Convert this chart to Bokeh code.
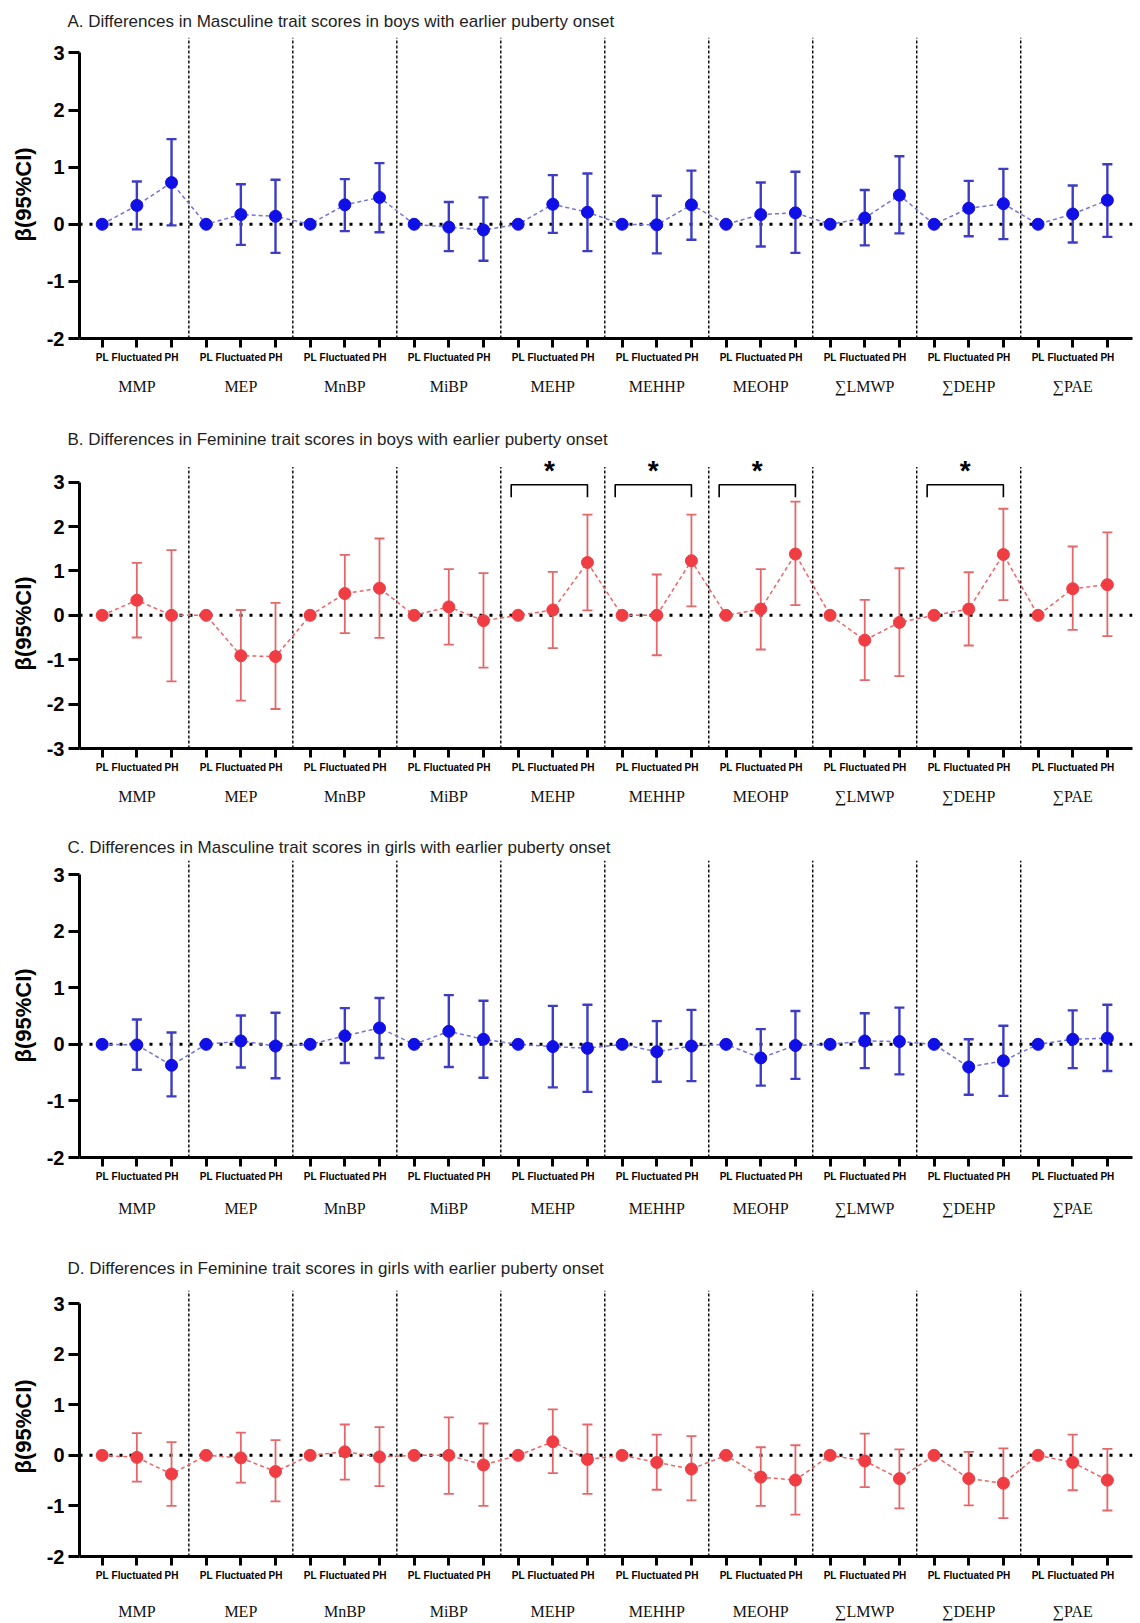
import numpy as np
from bokeh.plotting import figure
from bokeh.models import Range1d, FixedTicker, LinearAxis, Span, Title
from bokeh.core.properties import value
from bokeh.layouts import column
from bokeh.embed import file_html
from bokeh.resources import INLINE

# ---------------- data ----------------
groups = ["MMP", "MEP", "MnBP", "MiBP", "MEHP", "MEHHP", "MEOHP", "∑LMWP", "∑DEHP", "∑PAE"]
levels = ["PL", "Fluctuated", "PH"]

# Panel A: masculine, boys
a_fl_est = [0.33, 0.17, 0.34, -0.05, 0.35, -0.01, 0.17, 0.11, 0.28, 0.18]
a_fl_lo = [-0.09, -0.36, -0.12, -0.47, -0.15, -0.51, -0.39, -0.37, -0.21, -0.32]
a_fl_hi = [0.75, 0.70, 0.79, 0.39, 0.86, 0.50, 0.73, 0.60, 0.76, 0.68]
a_ph_est = [0.73, 0.14, 0.47, -0.10, 0.21, 0.34, 0.20, 0.51, 0.36, 0.42]
a_ph_lo = [-0.02, -0.50, -0.14, -0.64, -0.47, -0.27, -0.50, -0.16, -0.26, -0.22]
a_ph_hi = [1.49, 0.78, 1.07, 0.47, 0.89, 0.94, 0.92, 1.19, 0.97, 1.05]

# Panel B: feminine, boys
b_fl_est = [0.34, -0.91, 0.49, 0.19, 0.12, 0.00, 0.14, -0.56, 0.14, 0.60]
b_fl_lo = [-0.50, -1.92, -0.40, -0.66, -0.74, -0.90, -0.77, -1.46, -0.68, -0.33]
b_fl_hi = [1.18, 0.12, 1.36, 1.04, 0.98, 0.92, 1.04, 0.35, 0.97, 1.55]
b_ph_est = [0.00, -0.93, 0.61, -0.12, 1.19, 1.23, 1.38, -0.16, 1.37, 0.69]
b_ph_lo = [-1.49, -2.11, -0.51, -1.18, 0.11, 0.20, 0.23, -1.37, 0.34, -0.47]
b_ph_hi = [1.47, 0.28, 1.73, 0.95, 2.27, 2.27, 2.56, 1.06, 2.40, 1.87]
b_sig = [False, False, False, False, True, True, True, False, True, False]

# Panel C: masculine, girls
c_fl_est = [-0.01, 0.06, 0.15, 0.23, -0.04, -0.13, -0.24, 0.06, -0.40, 0.09]
c_fl_lo = [-0.45, -0.41, -0.33, -0.40, -0.76, -0.66, -0.73, -0.42, -0.89, -0.42]
c_fl_hi = [0.44, 0.51, 0.64, 0.87, 0.68, 0.41, 0.27, 0.55, 0.09, 0.60]
c_ph_est = [-0.37, -0.03, 0.29, 0.09, -0.07, -0.03, -0.02, 0.05, -0.29, 0.11]
c_ph_lo = [-0.92, -0.60, -0.24, -0.59, -0.84, -0.65, -0.61, -0.53, -0.91, -0.47]
c_ph_hi = [0.21, 0.56, 0.82, 0.77, 0.70, 0.61, 0.59, 0.65, 0.33, 0.70]

# Panel D: feminine, girls
d_fl_est = [-0.04, -0.05, 0.07, 0.00, 0.27, -0.14, -0.43, -0.11, -0.46, -0.14]
d_fl_lo = [-0.52, -0.54, -0.48, -0.76, -0.35, -0.68, -1.00, -0.63, -0.99, -0.69]
d_fl_hi = [0.44, 0.45, 0.61, 0.75, 0.91, 0.41, 0.16, 0.43, 0.07, 0.41]
d_ph_est = [-0.37, -0.32, -0.03, -0.19, -0.08, -0.27, -0.49, -0.46, -0.55, -0.49]
d_ph_lo = [-1.00, -0.91, -0.61, -1.00, -0.76, -0.89, -1.17, -1.05, -1.24, -1.09]
d_ph_hi = [0.26, 0.30, 0.56, 0.63, 0.61, 0.38, 0.20, 0.12, 0.14, 0.13]

titles = [
    "A. Differences in Masculine trait scores in  boys with earlier puberty onset",
    "B. Differences in Feminine trait scores in  boys with earlier puberty onset",
    "C. Differences in Masculine trait scores in  girls with earlier puberty onset",
    "D. Differences in Feminine trait scores in  girls with earlier puberty onset",
]
y_title = "β(95%CI)"

BLUE = dict(marker="#0f0fe6", bar="#3c3cc6", line="#7474d8", bar_w=2.4)
RED = dict(marker="#ef3d43", bar="#e4676a", line="#ef6266", bar_w=1.8)

FONT = "Liberation Sans"
SERIF = "Liberation Serif"


def make_panel(title, fl_est, fl_lo, fl_hi, ph_est, ph_lo, ph_hi, col, ylo, y_end, div_top,
               ppu, b_top, b_bot, title_standoff, grp_standoff, ylab_offset, sig=None):
    n = len(groups)
    x = np.arange(1, 3 * n + 1, dtype=float)
    est = []
    for i in range(n):
        est += [0.0, fl_est[i], ph_est[i]]
    bx = np.array([[3 * i + 2, 3 * i + 3] for i in range(n)], dtype=float).ravel()
    blo = np.array([[fl_lo[i], ph_lo[i]] for i in range(n)]).ravel()
    bhi = np.array([[fl_hi[i], ph_hi[i]] for i in range(n)]).ravel()

    frame_h = int(round((y_end - ylo) * ppu))
    p = figure(width=1140, height=b_top + frame_h + b_bot,
               x_range=Range1d(0.345, 30.725), y_range=Range1d(ylo, y_end),
               output_backend="svg", toolbar_location=None,
               x_axis_type=None, y_axis_type=None,
               min_border_left=79, min_border_right=8,
               min_border_top=b_top, min_border_bottom=b_bot)
    p.outline_line_color = None
    p.background_fill_color = "white"
    p.border_fill_color = "white"

    t = Title(text=title, align="left", offset=-12, standoff=title_standoff,
              text_font=FONT, text_font_size="17px", text_font_style="normal",
              text_color="#1e1e1e")
    p.add_layout(t, "above")

    # y axis
    yticks = list(range(ylo, 4))
    yax = LinearAxis(ticker=FixedTicker(ticks=yticks), bounds=(ylo, 3),
                     major_label_overrides={v: str(v) for v in yticks})
    yax.axis_line_width = 3
    yax.major_tick_line_width = 3
    yax.major_tick_out = 11
    yax.major_tick_in = 0
    yax.minor_tick_line_color = None
    yax.major_label_text_font = FONT
    yax.major_label_text_font_style = "bold"
    yax.major_label_text_font_size = "20px"
    yax.major_label_text_color = "black"
    yax.major_label_standoff = 4
    p.add_layout(yax, "left")

    yt = Title(text=y_title, align="left", offset=ylab_offset, standoff=16,
               text_font=FONT, text_font_size="22px", text_font_style="bold",
               text_color="black")
    p.add_layout(yt, "left")

    # x axis with level labels
    lvl_over = {int(v): levels[(int(v) - 1) % 3] for v in x}
    xax = LinearAxis(ticker=FixedTicker(ticks=list(x)), major_label_overrides=lvl_over)
    xax.axis_line_width = 3
    xax.major_tick_line_width = 3
    xax.major_tick_out = 9
    xax.major_tick_in = 0
    xax.minor_tick_line_color = None
    xax.major_label_text_font = FONT
    xax.major_label_text_font_style = "bold"
    xax.major_label_text_font_size = "10px"
    xax.major_label_text_color = "black"
    xax.major_label_standoff = 4
    p.add_layout(xax, "below")

    # group name axis
    centers = [3 * i + 2 for i in range(n)]
    gax = LinearAxis(ticker=FixedTicker(ticks=centers),
                     major_label_overrides={c: g for c, g in zip(centers, groups)})
    gax.axis_line_color = None
    gax.major_tick_line_color = None
    gax.minor_tick_line_color = None
    gax.major_label_text_font = SERIF
    gax.major_label_text_font_size = "16px"
    gax.major_label_text_color = "#111111"
    gax.major_label_standoff = grp_standoff
    p.add_layout(gax, "below")

    # reference lines
    p.add_layout(Span(location=0, dimension="width", line_color="black", line_width=3,
                      line_dash="3 7", level="underlay"))
    dx = [3 * k + 0.5 for k in range(1, n)]
    p.segment(x0=dx, y0=[ylo] * len(dx), x1=dx, y1=[div_top] * len(dx),
              line_color="black", line_width=1.4, line_dash="3 2")

    # connecting line, error bars, points
    p.line(x, est, line_color=col["line"], line_width=1.5, line_dash="4 3")
    p.segment(x0=bx, y0=blo, x1=bx, y1=bhi, line_color=col["bar"], line_width=col["bar_w"])
    cap = 0.145
    p.segment(x0=bx - cap, y0=bhi, x1=bx + cap, y1=bhi, line_color=col["bar"], line_width=col["bar_w"])
    p.segment(x0=bx - cap, y0=blo, x1=bx + cap, y1=blo, line_color=col["bar"], line_width=col["bar_w"])
    p.scatter(x, est, size=12, color=col["marker"])

    # significance brackets
    if sig is not None:
        sx, sy = [], []
        for i, s in enumerate(sig):
            if not s:
                continue
            x0 = 3 * i + 1 - 0.2
            x1 = 3 * i + 3
            p.line([x0, x0, x1, x1], [2.66, 2.94, 2.94, 2.66], line_color="black", line_width=1.6)
            sx.append((x0 + x1) / 2)
            sy.append(3.26)
        p.text(x=sx, y=sy, text=["*"] * len(sx), text_font=value(FONT),
               text_font_style="bold", text_font_size="28px", text_align="center",
               text_baseline="middle", text_color="black")
    return p


pA = make_panel(titles[0], a_fl_est, a_fl_lo, a_fl_hi, a_ph_est, a_ph_lo, a_ph_hi, BLUE,
                -2, 3.27, 3.27, 57.1, 37, 67, 14, 6, 97)
pB = make_panel(titles[1], b_fl_est, b_fl_lo, b_fl_hi, b_ph_est, b_ph_lo, b_ph_hi, RED,
                -3, 3.6, 3.34, 44.4, 50, 67, 14, 6, 78, sig=b_sig)
pC = make_panel(titles[2], c_fl_est, c_fl_lo, c_fl_hi, c_ph_est, c_ph_lo, c_ph_hi, BLUE,
                -2, 3.25, 3.25, 56.6, 45, 68, 8, 9, 95)
pD = make_panel(titles[3], d_fl_est, d_fl_lo, d_fl_hi, d_ph_est, d_ph_lo, d_ph_hi, RED,
                -2, 3.26, 3.26, 52.1, 65, 58, 25, 13, 83)

layout = column(pA, pB, pC, pD, spacing=0)
open("out.html", "w").write(file_html(layout, INLINE, title="plot"))
